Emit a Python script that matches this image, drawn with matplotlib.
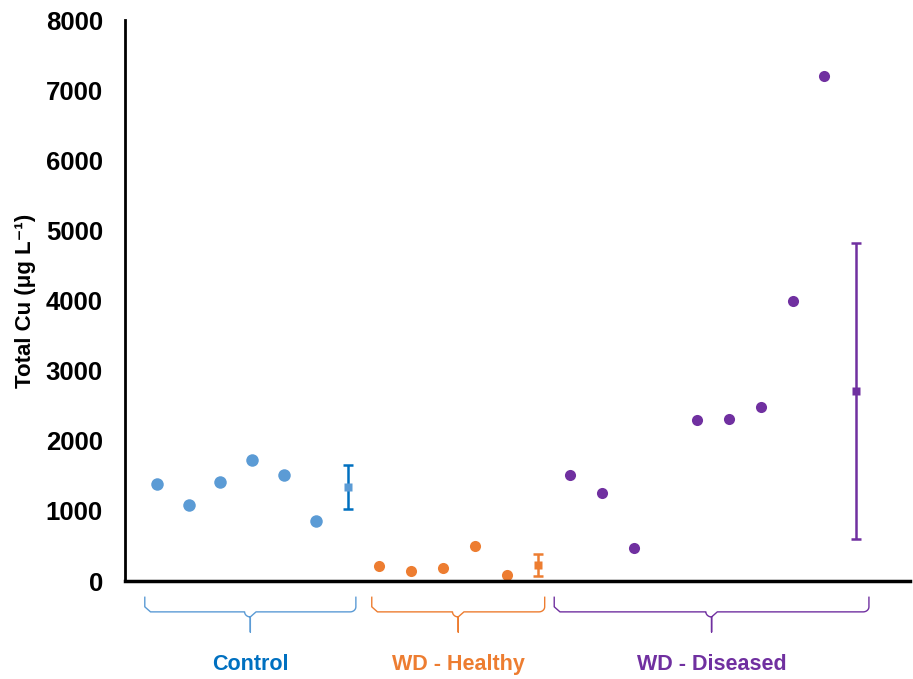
import numpy as np
import matplotlib.pyplot as plt
from matplotlib.transforms import blended_transform_factory

plt.rcParams['font.family'] = ['Liberation Sans', 'DejaVu Sans']

# values (ug/L); nan = gap in the sample order
control = [1385, 1085, 1410, 1725, 1510, 855]
healthy = [215, 145, 185, 500, 85]
diseased = [1510, 1255, 470, np.nan, 2295, 2310, 2480, 3995, 7205]

means = [1340, 230, 2710]
errs = [315, 160, 2110]

groups = ['Control', 'WD - Healthy', 'WD - Diseased']
dot_colors = ['#5B9BD5', '#ED7D31', '#7030A0']
bar_colors = ['#0070C0', '#ED7D31', '#7030A0']
label_colors = ['#0070C0', '#ED7D31', '#7030A0']
dot_sizes = [9, 8, 8]
brace_pad = [(0.38, 0.26), (0.24, 0.2), (0.5, 0.4)]


def brace(ax, x0, x1, color):
    # curly bracket under the axis, x in data units, y in axes fraction
    tr = blended_transform_factory(ax.transData, ax.transAxes)
    xm = (x0 + x1) / 2
    top, mid, tip = -0.029, -0.055, -0.091
    rx, ry = 0.18, 0.009
    t = np.linspace(0, np.pi / 2, 10)
    xs = [x0] + list(x0 + rx - rx * np.cos(t))
    ys = [top] + list(mid + ry * np.cos(t))
    xs += list(xm - rx * np.cos(t)) + [xm, xm]
    ys += list(mid - ry * np.sin(t)) + [tip, mid - ry]
    xs += list(xm + rx * (1 - np.cos(t)))
    ys += list(mid - ry * np.cos(t))
    xs += list(x1 - rx + rx * np.sin(t)) + [x1]
    ys += list(mid + ry * (1 - np.cos(t))) + [top]
    ax.plot(xs, ys, color=color, lw=1.0, transform=tr, clip_on=False)


fig = plt.figure(figsize=(9.13, 6.79), dpi=100)
ax = fig.add_axes([0.137, 0.1443, 0.86, 0.8262])
tr = blended_transform_factory(ax.transData, ax.transAxes)

start = 1
for i, vals in enumerate([control, healthy, diseased]):
    x = np.arange(start, start + len(vals))
    ax.plot(x, vals, 'o', ms=dot_sizes[i], color=dot_colors[i], mec='none')
    xm = start + len(vals)
    ax.errorbar([xm], [means[i]], yerr=[errs[i]], fmt='s', ms=6,
                color=dot_colors[i], ecolor=bar_colors[i], elinewidth=1.8,
                capsize=3.5, capthick=1.8, mec='none')
    lo, hi = start - brace_pad[i][0], xm + brace_pad[i][1]
    brace(ax, lo, hi, dot_colors[i])
    ax.text((lo + hi) / 2, -0.148, groups[i], transform=tr, ha='center',
            va='center', fontsize=15.5, fontweight='bold', color=label_colors[i])
    start = xm + 1

ax.set_xlim(0, 24.7)
ax.set_ylim(0, 8000)
ax.set_yticks(range(0, 8001, 1000))
ax.set_xticks([])
ax.tick_params(axis='y', length=0, labelsize=18.5, pad=16)
for t in ax.get_yticklabels():
    t.set_fontweight('bold')
ax.set_ylabel('Total Cu (μg L⁻¹)', fontsize=16, fontweight='bold', labelpad=7)

ax.spines['top'].set_visible(False)
ax.spines['right'].set_visible(False)
ax.spines['left'].set_linewidth(2)
ax.spines['bottom'].set_linewidth(2.5)

fig.savefig('out.png', dpi=100)
